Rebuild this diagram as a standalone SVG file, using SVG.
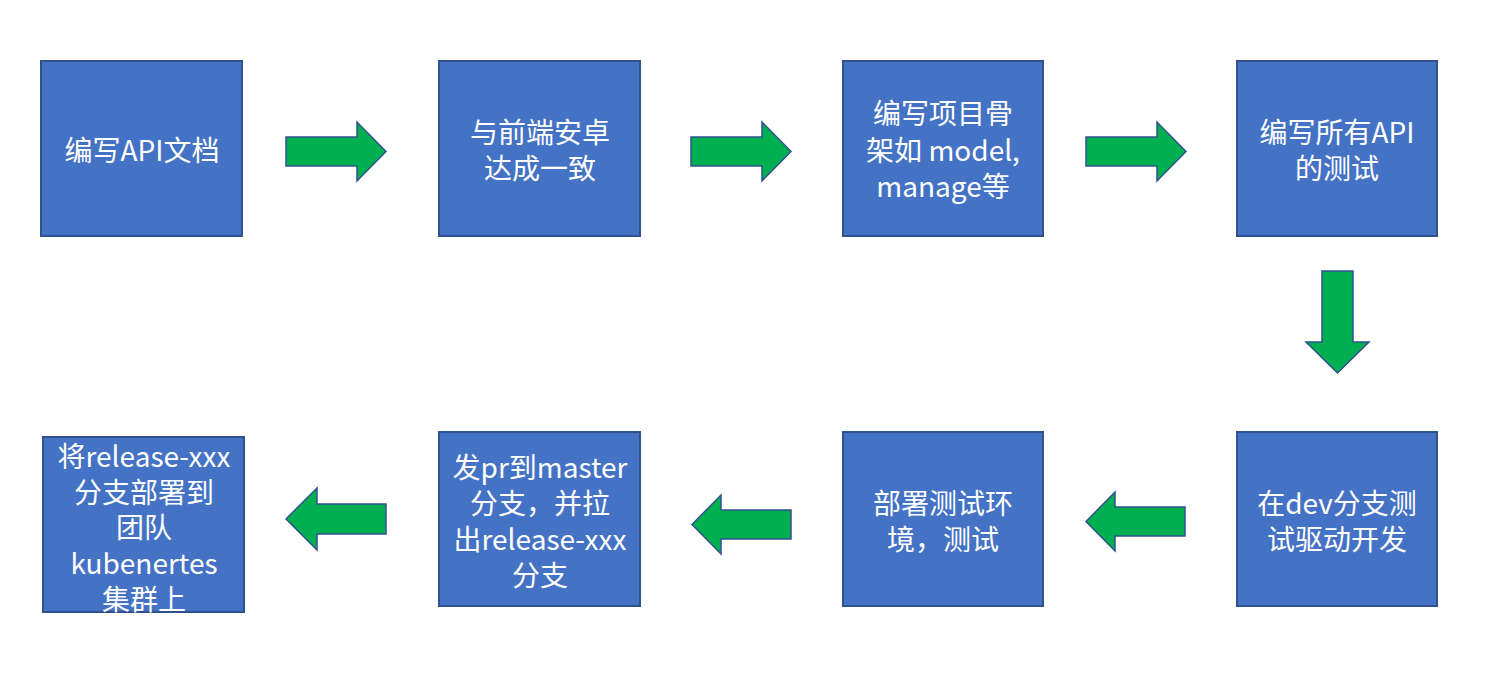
<svg xmlns="http://www.w3.org/2000/svg" width="1488" height="685" viewBox="0 0 1488 685">
<style>
.box{fill:#4472C4;stroke:#2F528F;stroke-width:2}
.arr{fill:#00B050;stroke:#2F528F;stroke-width:1.5;stroke-linejoin:miter}
.t{fill:#FFFFFF;font-family:"Microsoft YaHei","Noto Sans CJK SC",sans-serif;font-size:28px;text-anchor:middle;dominant-baseline:central}
</style>
<rect width="1488" height="685" fill="#FFFFFF"/>
<g id="n1"><rect class="box" x="41" y="61" width="201" height="175"/><text class="t" x="142" y="149">编写API文档</text></g>
<g id="n2"><rect class="box" x="439" y="61" width="201" height="175"/><text class="t" x="540" y="131">与前端安卓</text><text class="t" x="540" y="167">达成一致</text></g>
<g id="n3"><rect class="box" x="843" y="61" width="200" height="175"/><text class="t" x="943" y="112">编写项目骨</text><text class="t" x="943" y="149">架如 model,</text><text class="t" x="943" y="185">manage等</text></g>
<g id="n4"><rect class="box" x="1237" y="61" width="200" height="175"/><text class="t" x="1337" y="131">编写所有API</text><text class="t" x="1337" y="167">的测试</text></g>
<g id="n5"><rect class="box" x="1237" y="432" width="200" height="174"/><text class="t" x="1337" y="502">在dev分支测</text><text class="t" x="1337" y="538">试驱动开发</text></g>
<g id="n6"><rect class="box" x="843" y="432" width="200" height="174"/><text class="t" x="943" y="502">部署测试环</text><text class="t" x="943" y="538">境，测试</text></g>
<g id="n7"><rect class="box" x="439" y="432" width="201" height="174"/><text class="t" x="540" y="466">发pr到master</text><text class="t" x="540" y="502">分支，并拉</text><text class="t" x="540" y="538">出release-xxx</text><text class="t" x="540" y="574">分支</text></g>
<g id="n8"><rect class="box" x="43" y="437" width="201" height="175"/><text class="t" x="144" y="455">将release-xxx</text><text class="t" x="144" y="491">分支部署到</text><text class="t" x="144" y="526">团队</text><text class="t" x="144" y="562">kubenertes</text><text class="t" x="144" y="598">集群上</text></g>
<g id="connectors">
<polygon class="arr" points="286,137 357,137 357,122 386,151.5 357,181 357,166 286,166"/>
<polygon class="arr" points="691,137 762,137 762,122 791,151.5 762,181 762,166 691,166"/>
<polygon class="arr" points="1086,137 1157,137 1157,122 1186,151.5 1157,181 1157,166 1086,166"/>
<polygon class="arr" points="1322,271 1353,271 1353,342 1369,342 1337.5,373 1306,342 1322,342"/>
<polygon class="arr" points="1185,507 1115,507 1115,492 1086,521.5 1115,551 1115,536 1185,536"/>
<polygon class="arr" points="791,510 721,510 721,495 692,524.5 721,554 721,539 791,539"/>
<polygon class="arr" points="386,504 317,504 317,488 286,519 317,550 317,534 386,534"/>
</g>
</svg>
